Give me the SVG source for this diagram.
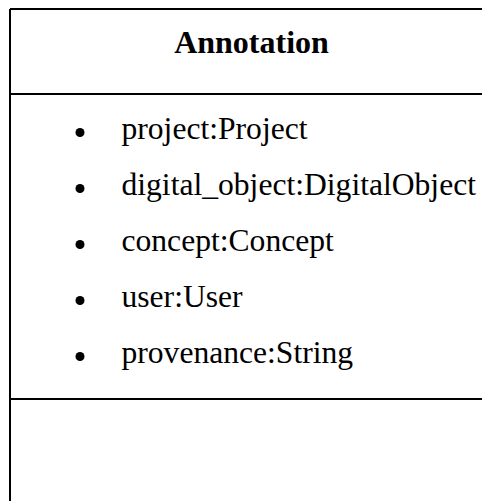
<svg xmlns="http://www.w3.org/2000/svg" width="482" height="501" viewBox="0 0 482 501">
  <style>
    .frame { stroke: #000; stroke-width: 2; fill: none; }
    .title { font-family: "Liberation Serif", "Times New Roman", serif; font-size: 32px; font-weight: bold; fill: #000; }
    .attr { font-family: "Liberation Serif", "Times New Roman", serif; font-size: 31.6px; fill: #000; }
    .dot { fill: #000; }
  </style>
  <rect width="482" height="501" fill="#fff"/>
  <g id="annotation-class">
    <!-- class frame: top edge, left edge and compartment dividers -->
    <path class="frame" d="M10 9 H482 M10 9 V501 M10 94 H482 M10 399 H482"/>
    <text class="title" x="251.5" y="53" text-anchor="middle">Annotation</text>
    <g id="attributes">
      <circle class="dot" cx="80" cy="132.5" r="4.5"/>
      <text class="attr" x="121.5" y="139">project:Project</text>
      <circle class="dot" cx="80" cy="188.5" r="4.5"/>
      <text class="attr" x="121.5" y="195">digital_object:DigitalObject</text>
      <circle class="dot" cx="80" cy="244.5" r="4.5"/>
      <text class="attr" x="121.5" y="251">concept:Concept</text>
      <circle class="dot" cx="80" cy="300.5" r="4.5"/>
      <text class="attr" x="121.5" y="307">user:User</text>
      <circle class="dot" cx="80" cy="356.5" r="4.5"/>
      <text class="attr" x="121.5" y="363">provenance:String</text>
    </g>
  </g>
</svg>
